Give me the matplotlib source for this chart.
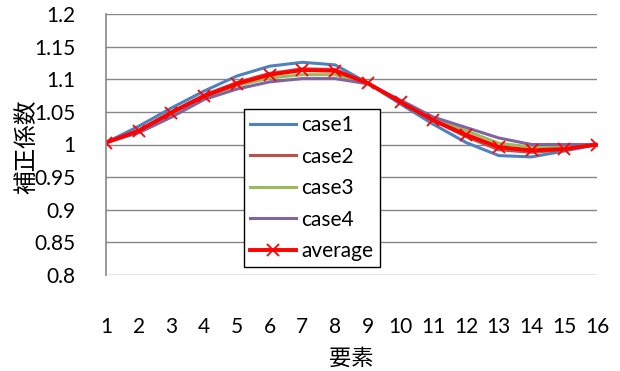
import numpy as np
import matplotlib.pyplot as plt

plt.rcParams['font.family'] = ['Lato', 'Noto Sans CJK JP', 'DejaVu Sans']

elements = np.arange(1, 17)
case1 = [1.003, 1.028, 1.056, 1.082, 1.105, 1.120, 1.126, 1.122,
         1.094, 1.062, 1.031, 1.003, 0.983, 0.981, 0.990, 1.000]
case2 = [1.003, 1.022, 1.050, 1.076, 1.095, 1.109, 1.116, 1.115,
         1.094, 1.065, 1.037, 1.012, 0.992, 0.988, 0.992, 1.000]
case3 = [1.003, 1.020, 1.046, 1.072, 1.090, 1.102, 1.107, 1.107,
         1.093, 1.066, 1.040, 1.021, 1.002, 0.996, 0.997, 1.000]
case4 = [1.003, 1.018, 1.042, 1.069, 1.085, 1.096, 1.101, 1.101,
         1.093, 1.068, 1.042, 1.026, 1.010, 1.000, 1.000, 1.000]
average = [1.003, 1.021, 1.049, 1.074, 1.093, 1.107, 1.114, 1.113,
           1.094, 1.065, 1.037, 1.015, 0.996, 0.991, 0.993, 1.000]

fig = plt.figure(figsize=(6.2, 3.71), dpi=100)
ax = fig.add_axes([106 / 620, 1 - 275 / 371, 491 / 620, 261 / 371])

ax.plot(elements, case1, color='#4F81BD', lw=2.2, label='case1')
ax.plot(elements, case2, color='#C0504D', lw=2.2, label='case2')
ax.plot(elements, case3, color='#9BBB59', lw=2.2, label='case3')
ax.plot(elements, case4, color='#8064A2', lw=2.2, label='case4')
ax.plot(elements, average, color='#FF0000', lw=2.8, marker='x',
        markersize=8, markeredgewidth=1.3, label='average')

ax.set_xlim(1, 16)
ax.set_ylim(0.8, 1.2)
ax.set_yticks(np.arange(0.8, 1.2001, 0.05))
ax.set_yticklabels(['0.8', '0.85', '0.9', '0.95', '1', '1.05', '1.1', '1.15', '1.2'])
ax.set_xticks(elements)
ax.tick_params(axis='both', length=0, labelsize=15, colors='black')
ax.tick_params(axis='y', pad=22)
ax.tick_params(axis='x', pad=30)
ax.yaxis.grid(True, color='#868686', lw=1)
ax.set_axisbelow(True)
for side in ['top', 'right', 'bottom']:
    ax.spines[side].set_visible(False)
ax.spines['left'].set_color('#868686')
ax.spines['left'].set_linewidth(1.2)

ax.set_ylabel('補正係数', fontsize=17)
ax.yaxis.set_label_coords(-0.14, 0.49)
ax.set_xlabel('要素', fontsize=16, labelpad=8)

leg = ax.legend(loc='upper left', bbox_to_anchor=(244 / 620, 1 - 109 / 371),
                bbox_transform=fig.transFigure, fontsize=15, frameon=True,
                fancybox=False, edgecolor='black', handlelength=2.2,
                handletextpad=0.25, labelspacing=0.55, borderpad=0.3,
                borderaxespad=0)
leg.get_frame().set_linewidth(1)
leg.get_frame().set_alpha(1)

fig.savefig('out.png', dpi=100)
